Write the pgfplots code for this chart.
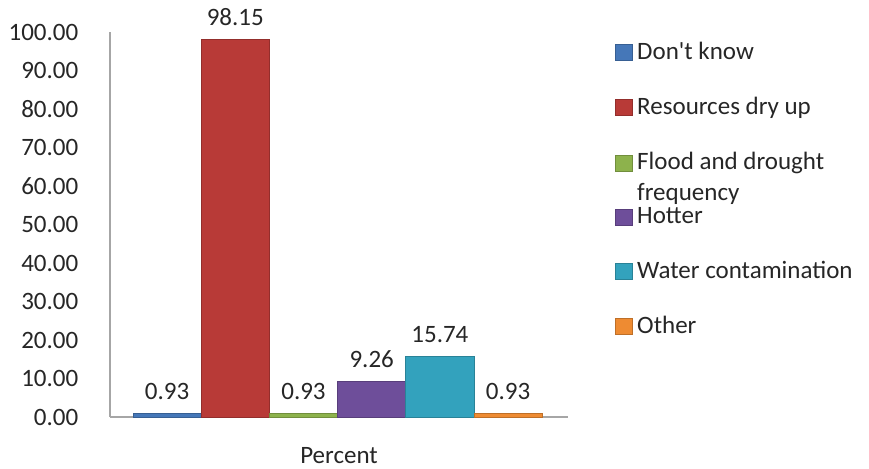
\documentclass[border=0pt]{standalone}
\usepackage{pgfplots}
\pgfplotsset{compat=1.18}
\usepackage{fontspec}
\setmainfont{Carlito}
\definecolor{cblue}{HTML}{4577B8}
\definecolor{cred}{HTML}{B83A37}
\definecolor{cgreen}{HTML}{8DB24C}
\definecolor{cpurple}{HTML}{6E4E9A}
\definecolor{ccyan}{HTML}{33A2BD}
\definecolor{corange}{HTML}{EE8B32}
\definecolor{axgray}{HTML}{A6A6A6}
\begin{document}
\begin{tikzpicture}
\fontsize{12.5}{15}\selectfont
\path[use as bounding box] (-55pt,-26pt) rectangle (379.5pt,208.5pt);
\begin{axis}[
  at={(0,0)}, anchor=south west,
  scale only axis, width=229pt, height=192.5pt,
  xmin=0, xmax=458, ymin=0, ymax=100,
  axis x line*=bottom, axis y line*=left,
  axis line style={axgray, line width=0.6pt},
  ytick={0,10,...,100},
  yticklabel style={/pgf/number format/.cd, fixed, fixed zerofill, precision=2, /tikz/.cd, xshift=-11.5pt},
  /pgf/number format/assume math mode=true,
  xtick={229}, xticklabels={Percent},
  xticklabel style={yshift=-11pt},
  major tick length=0pt,
  tick label style={font=\fontsize{12.5}{15}\selectfont, text=black!85},
  nodes near coords,
  nodes near coords style={/pgf/number format/.cd, fixed, fixed zerofill, precision=2, assume math mode=true, /tikz/.cd},
  every node near coord/.append style={anchor=south, inner sep=0pt, yshift=6.5pt, font=\fontsize{12.5}{15}\selectfont, text=black!85},
  legend style={draw=none, fill=none, at={(1.1026,0.985)}, anchor=north west,
    inner sep=0pt, row sep=13pt, font=\fontsize{12.5}{15}\selectfont, text=black!85,
    cells={anchor=west}},
  legend image code/.code={\fill[#1] (0pt,-4pt) rectangle (8.5pt,4pt);},
  clip=false,
]
\addplot[ybar, bar width=68.2, bar shift=0pt, fill=cblue, draw=cblue!80!black] coordinates {(57.1,0.93)};
\addlegendentry{Don\textquotesingle t know}
\addplot[ybar, bar width=68.2, bar shift=0pt, fill=cred, draw=cred!80!black] coordinates {(125.3,98.15)};
\addlegendentry{Resources dry up}
\addplot[ybar, bar width=68.2, bar shift=0pt, fill=cgreen, draw=cgreen!80!black] coordinates {(193.5,0.93)};
\addlegendentry{\vphantom{Fdy}\smash{\begin{tabular}[t]{@{}l@{}}Flood and drought\\[0.5pt]frequency\end{tabular}}}
\addplot[ybar, bar width=68.2, bar shift=0pt, fill=cpurple, draw=cpurple!80!black] coordinates {(261.7,9.26)};
\addlegendentry{Hotter}
\addplot[ybar, bar width=68.2, bar shift=0pt, fill=ccyan, draw=ccyan!80!black] coordinates {(329.9,15.74)};
\addlegendentry{Water contamination}
\addplot[ybar, bar width=68.2, bar shift=0pt, fill=corange, draw=corange!80!black] coordinates {(398.1,0.93)};
\addlegendentry{Other}
\end{axis}
\end{tikzpicture}
\end{document}
